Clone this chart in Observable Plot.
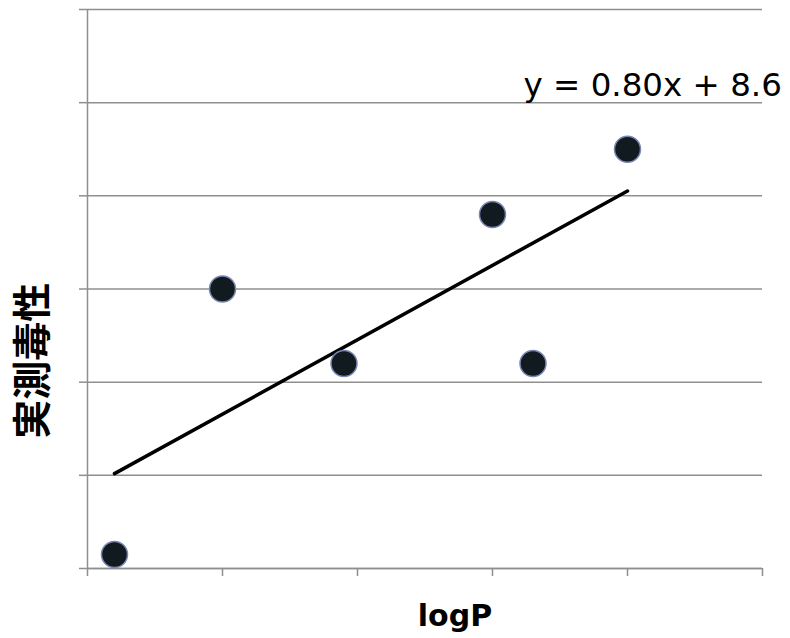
<!DOCTYPE html>
<html>
<head>
<meta charset="utf-8">
<script src="https://cdn.jsdelivr.net/npm/d3@7"></script>
<script src="https://cdn.jsdelivr.net/npm/@observablehq/plot@0.6"></script>
<style>
  html, body { margin: 0; padding: 0; background: #fff; }
  #chart { width: 790px; height: 638px; }
</style>
</head>
<body>
<div id="chart"></div>
<script>
// Data
const logP = [-0.8, 0.0, 0.9, 2.0, 2.3, 3.0];
const toxicity = [7.15, 10.0, 9.2, 10.8, 9.2, 11.5];
const xTicks = [-1, 0, 1, 2, 3, 4];
const yTicks = [7, 8, 9, 10, 11, 12, 13];
const xLabel = "logP";
const yLabel = "実測毒性";
const equationText = "y = 0.80x + 8.6";
const equationPos = [{x: 2.23, y: 12.07}];
const yLabelPos = [{x: -1, y: 9.23}];

const data = logP.map((x, i) => ({x, y: toxicity[i]}));
const gray = "#8f8f8f";

const chart = Plot.plot({
  width: 790,
  height: 638,
  marginLeft: 87,
  marginRight: 28,
  marginTop: 9,
  marginBottom: 70,
  style: {background: "#fff", overflow: "visible"},
  x: {domain: [-1, 4]},
  y: {domain: [7, 13]},
  marks: [
    Plot.gridY(yTicks, {stroke: gray, strokeOpacity: 1, strokeWidth: 1.5}),
    Plot.axisY(yTicks, {tickSize: 8, tickFormat: () => "", label: null, stroke: gray, strokeWidth: 1.5}),
    Plot.axisX(xTicks, {tickSize: 8, tickFormat: () => "", label: null, stroke: gray, strokeWidth: 1.5}),
    Plot.ruleX([-1], {stroke: gray, strokeWidth: 1.5}),
    Plot.ruleY([7], {stroke: gray, strokeWidth: 1.5}),
    Plot.linearRegressionY(data, {x: "x", y: "y", stroke: "#000", strokeWidth: 3.5, ci: 0}),
    Plot.dot(data, {x: "x", y: "y", r: 13, fill: "#111b1f", stroke: "#7a85b3", strokeWidth: 1.5}),
    Plot.text(equationPos, {x: "x", y: "y", text: () => equationText, textAnchor: "start", lineAnchor: "bottom",
      fontSize: 32.5, fontFamily: "DejaVu Sans", fill: "#000"}),
    Plot.text([xLabel], {frameAnchor: "bottom", text: d => d, dx: 30, dy: 57, lineAnchor: "bottom",
      fontSize: 30, fontWeight: "bold", fontFamily: "DejaVu Sans", fill: "#000"}),
    Plot.text(yLabelPos, {x: "x", y: "y", text: () => yLabel, rotate: -90, dx: -54,
      fontSize: 39, fontWeight: "bold", fontFamily: "Noto Sans CJK JP", fill: "#000"})
  ]
});
document.getElementById("chart").appendChild(chart);
</script>
</body>
</html>
